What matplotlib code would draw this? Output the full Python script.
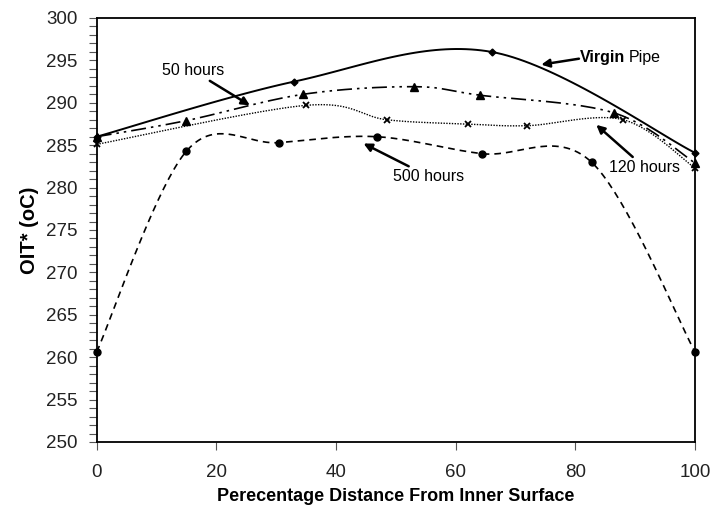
import numpy as np
import matplotlib
matplotlib.use("Agg")
import matplotlib.pyplot as plt
from matplotlib import font_manager as fm
from matplotlib.ticker import MultipleLocator
from matplotlib.transforms import offset_copy

# =============================================================================
# Data
# =============================================================================

virgin_x = [0, 33, 66, 100]
virgin_y = [286.0, 292.5, 296.0, 284.1]

h50_x = [0, 15, 34.5, 53, 64, 86.5, 100]
h50_y = [286.0, 287.9, 291.0, 291.9, 290.9, 288.8, 282.9]

h120_x = [0, 35, 48.5, 62, 72, 88, 100]
h120_y = [285.1, 289.7, 288.0, 287.5, 287.3, 288.0, 282.3]

h500_x = [0, 15, 30.4, 46.8, 64.4, 82.7, 100]
h500_y = [260.6, 284.3, 285.3, 286.0, 284.0, 283.0, 260.6]

XLABEL = "Perecentage Distance From Inner Surface"
YLABEL = "OIT* (oC)"


def glad(x, y, n=40):
    """Excel-achtige gladde lijn (Catmull-Rom als Bezier)."""
    p = np.column_stack([x, y]).astype(float)
    p_ext = np.vstack([p[0], p, p[-1]])
    t = np.linspace(0, 1, n)[:, None]
    stukken = []
    for i in range(len(p) - 1):
        p0, p1, p2, p3 = p_ext[i], p_ext[i + 1], p_ext[i + 2], p_ext[i + 3]
        c1 = p1 + (p2 - p0) / 6
        c2 = p2 - (p3 - p1) / 6
        b = ((1 - t) ** 3) * p1 + 3 * ((1 - t) ** 2) * t * c1 + 3 * (1 - t) * t ** 2 * c2 + t ** 3 * p2
        stukken.append(b if i == 0 else b[1:])
    b = np.vstack(stukken)
    return b[:, 0], b[:, 1]


plt.rcParams["font.family"] = ["Liberation Sans", "DejaVu Sans"]

# smal lettertype voor de x-as titel als het er is
try:
    fm.findfont("Liberation Sans Narrow", fallback_to_default=False)
    xlabel_font, xlabel_size = "Liberation Sans Narrow", 14.5
except ValueError:
    xlabel_font, xlabel_size = "Liberation Sans", 13.0

fig = plt.figure(figsize=(7.13, 5.17), dpi=100)
ax = fig.add_axes([0.1356, 0.1451, 0.8392, 0.8201])

series = [
    (virgin_x, virgin_y, dict(linestyle="-", lw=1.4), dict(marker="D", ms=3.5)),
    (h50_x, h50_y, dict(linestyle=(0, (9, 3, 1.5, 3, 1.5, 3)), lw=1.2), dict(marker="^", ms=6)),
    (h120_x, h120_y, dict(linestyle=(0, (1, 1)), lw=1.0), dict(marker="x", ms=5, mew=1.3)),
    (h500_x, h500_y, dict(linestyle=(0, (4, 3)), lw=1.2), dict(marker="o", ms=5)),
]

for x, y, lijn, mark in series:
    gx, gy = glad(x, y)
    ax.plot(gx, gy, color="black", **lijn, zorder=2)
    ax.plot(x, y, linestyle="none", color="black", clip_on=False, zorder=3, **mark)

ax.set_xlim(0, 100)
ax.set_ylim(250, 300)
ax.xaxis.set_major_locator(MultipleLocator(20))
ax.yaxis.set_major_locator(MultipleLocator(5))
ax.yaxis.set_minor_locator(MultipleLocator(1))
ax.tick_params(axis="both", which="both", direction="out", length=6, width=0.8,
               color="#555555", labelsize=13.5, labelcolor="#222222")
ax.tick_params(axis="x", pad=10)
ax.tick_params(axis="y", pad=8)
for s in ax.spines.values():
    s.set_linewidth(1.3)

ax.set_xlabel(XLABEL, fontsize=xlabel_size, fontweight="bold",
              family=xlabel_font, labelpad=5)
ax.set_ylabel(YLABEL, fontsize=14.5, fontweight="bold", labelpad=5)

# Annotaties met pijlen
pijl = dict(arrowstyle="-|>", color="black", lw=1.8, mutation_scale=12, shrinkA=0, shrinkB=0)
ax.annotate("50 hours", xy=(25.6, 289.7), xytext=(21.3, 293.8), fontsize=11.5,
            ha="right", va="center", arrowprops=pijl)
ax.annotate("120 hours", xy=(83.5, 287.4), xytext=(85.6, 282.4), fontsize=11.5,
            ha="left", va="center", arrowprops=pijl)
ax.annotate("500 hours", xy=(44.6, 285.2), xytext=(49.6, 281.3), fontsize=11.5,
            ha="left", va="center", arrowprops=pijl)
ax.annotate("", xy=(74.3, 294.5), xytext=(80.6, 295.2), arrowprops=pijl)

# "Virgin" vet, "Pipe" normaal, direct erachter
t1 = ax.text(80.8, 295.3, "Virgin", fontsize=11.5, fontweight="bold", ha="left", va="center")
fig.canvas.draw()
breedte = t1.get_window_extent().width
ax.text(80.8, 295.3, "Pipe", fontsize=11.5, ha="left", va="center",
        transform=offset_copy(ax.transData, fig=fig, x=breedte + 3, units="dots"))

fig.savefig("out.png", dpi=100)
